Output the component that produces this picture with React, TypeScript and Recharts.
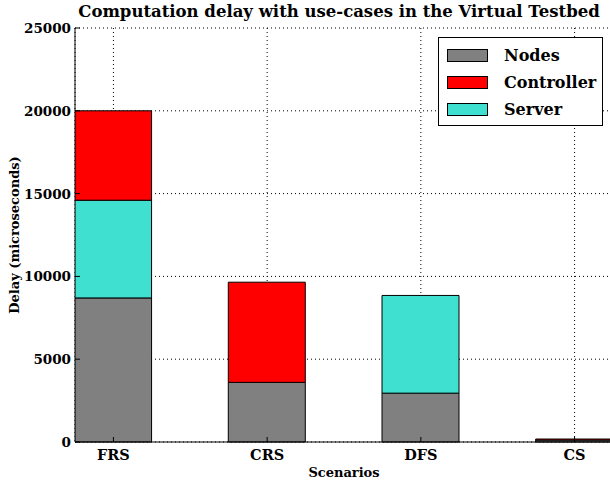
import React from "react";
import {
  Bar,
  BarChart,
  CartesianGrid,
  XAxis,
  YAxis,
} from "recharts";

// values (microseconds)
const categories = ["FRS", "CRS", "DFS", "CS"];
const nodes = [8700, 3600, 2950, 120];
const server = [5900, 0, 5900, 0];
const controller = [5400, 6050, 0, 60];
const yTicks = [0, 5000, 10000, 15000, 20000, 25000];

const seriesNames = ["Nodes", "Controller", "Server"];
const seriesColors: Record<string, string> = {
  Nodes: "#808080",
  Controller: "#ff0000",
  Server: "#40e0d0",
};

const data = categories.map((name, i) => ({
  idx: i,
  name,
  nodes: nodes[i],
  server: server[i],
  controller: controller[i],
}));

const FONT = "'DejaVu Serif', serif";

function YTick(props: any) {
  const { x, y, payload } = props;
  return (
    <g>
      <line x1={x + 4} x2={x + 9} y1={y} y2={y} stroke="#000" />
      <text
        x={x}
        y={y}
        dy={5}
        textAnchor="end"
        fontFamily={FONT}
        fontWeight="bold"
        fontSize={13.5}
        fill="#000"
      >
        {payload.value}
      </text>
    </g>
  );
}

function XTick(props: any) {
  const { x, y, payload } = props;
  return (
    <g>
      <line x1={x} x2={x} y1={y - 4} y2={y - 9} stroke="#000" />
      <text
        x={x}
        y={y}
        dy={13.5}
        textAnchor="middle"
        fontFamily={FONT}
        fontWeight="bold"
        fontSize={14.5}
        fill="#000"
      >
        {categories[payload.value]}
      </text>
    </g>
  );
}

function TopTick(props: any) {
  const { x, y } = props;
  return <line x1={x} x2={x} y1={y} y2={y + 5} stroke="#000" />;
}

export default function App() {
  return (
    <div
      style={{
        position: "absolute",
        left: 0,
        top: 0,
        width: 610,
        height: 480,
        overflow: "hidden",
        background: "#fff",
      }}
    >
      <div
        style={{
          position: "absolute",
          top: 2,
          left: 78,
          width: 522,
          textAlign: "center",
          fontFamily: FONT,
          fontWeight: "bold",
          fontSize: 16.5,
          whiteSpace: "nowrap",
        }}
      >
        Computation delay with use-cases in the Virtual Testbed
      </div>

      <BarChart
        width={640}
        height={480}
        data={data}
        margin={{ top: 28, right: 27, bottom: 0, left: 0 }}
      >
        <XAxis
          dataKey="idx"
          type="number"
          domain={[-0.25, 3.25]}
          ticks={[0, 1, 2, 3]}
          allowDataOverflow
          height={38}
          tickSize={0}
          tickMargin={4}
          tick={<XTick />}
          axisLine={{ stroke: "#000" }}
          label={{
            value: "Scenarios",
            position: "insideBottom",
            offset: 3,
            style: {
              fontFamily: FONT,
              fontWeight: "bold",
              fontSize: 13,
              fill: "#000",
            },
          }}
        />
        <XAxis
          xAxisId="top"
          orientation="top"
          dataKey="idx"
          type="number"
          domain={[-0.25, 3.25]}
          ticks={[0, 1, 2, 3]}
          height={0}
          tickSize={0}
          tick={<TopTick />}
          axisLine={{ stroke: "#000" }}
        />
        <YAxis
          width={75}
          domain={[0, 25000]}
          ticks={yTicks}
          tickSize={0}
          tickMargin={4}
          tick={<YTick />}
          axisLine={{ stroke: "#000" }}
          label={{
            value: "Delay (microseconds)",
            angle: -90,
            position: "insideLeft",
            offset: 14,
            style: {
              textAnchor: "middle",
              fontFamily: FONT,
              fontWeight: "bold",
              fontSize: 13,
              fill: "#000",
            },
          }}
        />
        <Bar
          dataKey="nodes"
          stackId="a"
          fill={seriesColors.Nodes}
          stroke="#000"
          barSize={77}
          isAnimationActive={false}
        />
        <Bar
          dataKey="server"
          stackId="a"
          fill={seriesColors.Server}
          stroke="#000"
          barSize={77}
          isAnimationActive={false}
        />
        <Bar
          dataKey="controller"
          stackId="a"
          fill={seriesColors.Controller}
          stroke="#000"
          barSize={77}
          isAnimationActive={false}
        />
        <CartesianGrid stroke="#000" strokeDasharray="1 3" />
      </BarChart>

      <div
        style={{
          position: "absolute",
          left: 438,
          top: 37,
          width: 165,
          height: 89,
          border: "1px solid #000",
          background: "#fff",
          boxSizing: "border-box",
          fontFamily: FONT,
          fontWeight: "bold",
          fontSize: 16,
          paddingTop: 4,
        }}
      >
        {seriesNames.map((n) => (
          <div
            key={n}
            style={{ display: "flex", alignItems: "center", height: 27 }}
          >
            <span
              style={{
                display: "inline-block",
                marginLeft: 8,
                width: 41,
                height: 13,
                background: seriesColors[n],
                border: "1px solid #000",
                boxSizing: "border-box",
              }}
            />
            <span style={{ marginLeft: 16 }}>{n}</span>
          </div>
        ))}
      </div>
    </div>
  );
}
